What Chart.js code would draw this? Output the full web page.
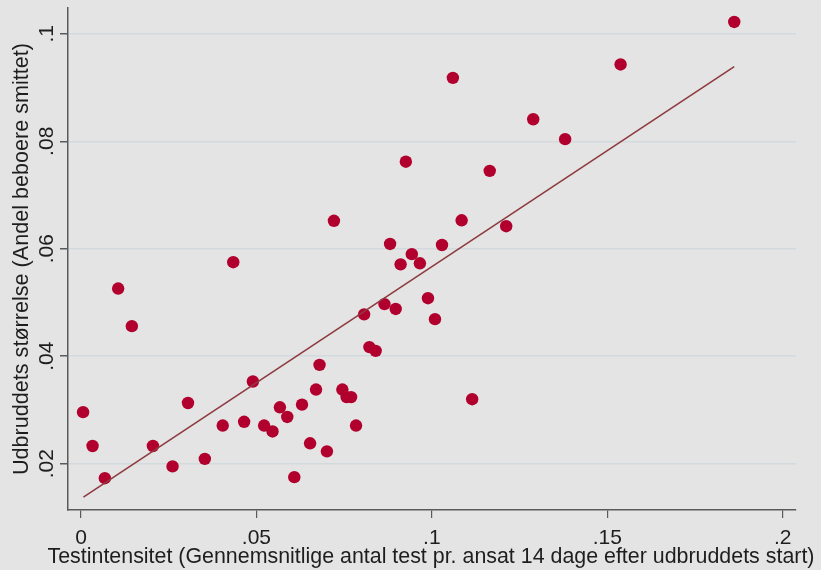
<!DOCTYPE html>
<html>
<head>
<meta charset="utf-8">
<script src="https://cdn.jsdelivr.net/npm/chart.js@4"></script>
<style>
  html, body { margin: 0; padding: 0; background: #e4e4e4; }
  #wrap { width: 821px; height: 570px; }
</style>
</head>
<body>
<div id="wrap"><canvas id="chart" width="821" height="570"></canvas></div>
<script>
// Testintensitet (x) and udbruddets stoerrelse (y)
const testIntensity = [
  0.0006, 0.0033, 0.0068, 0.0106, 0.0145, 0.0205, 0.0261, 0.0305, 0.0353, 0.0404,
  0.0434, 0.0465, 0.0490, 0.0522, 0.0546, 0.0567, 0.0588, 0.0608, 0.0630, 0.0653,
  0.0670, 0.0680, 0.0701, 0.0721, 0.0745, 0.0757, 0.0770, 0.0784, 0.0807, 0.0822,
  0.0840, 0.0865, 0.0881, 0.0897, 0.0911, 0.0926, 0.0943, 0.0966, 0.0989, 0.1009,
  0.1029, 0.1060, 0.1085, 0.1115, 0.1165, 0.1212, 0.1289, 0.1380, 0.1538, 0.1862
];
const outbreakSize = [
  0.0296, 0.0233, 0.0173, 0.0526, 0.0456, 0.0233, 0.0195, 0.0313, 0.0209, 0.0271,
  0.0575, 0.0278, 0.0353, 0.0271, 0.0260, 0.0305, 0.0287, 0.0175, 0.0310, 0.0238,
  0.0338, 0.0384, 0.0223, 0.0652, 0.0338, 0.0324, 0.0324, 0.0271, 0.0478, 0.0417,
  0.0410, 0.0497, 0.0609, 0.0488, 0.0571, 0.0762, 0.0590, 0.0573, 0.0508, 0.0469,
  0.0607, 0.0918, 0.0653, 0.0320, 0.0745, 0.0642, 0.0841, 0.0804, 0.0943, 0.1022
];
// fitted line endpoints
const fitX = [0.0007, 0.1862];
const fitY = [0.0138, 0.0939];

const xTicks = [0, 0.05, 0.1, 0.15, 0.2];
const yTicks = [0.02, 0.04, 0.06, 0.08, 0.1];

const xTitle = 'Testintensitet (Gennemsnitlige antal test pr. ansat 14 dage efter udbruddets start)';
const yTitle = 'Udbruddets størrelse (Andel beboere smittet)';

const FONT = '"Liberation Sans", Arial, sans-serif';
const TEXT = '#1e1e1e';
const AXIS = '#5a5a5a';

function fmt(v) {
  if (v === 0) return '0';
  return String(+v.toFixed(3)).replace(/^0\./, '.');
}

// rotated y tick labels, and an x title allowed to run wider than the plot
const extraText = {
  id: 'extraText',
  afterDraw(chart) {
    const y = chart.scales.y;
    const area = chart.chartArea;
    const ctx = chart.ctx;
    ctx.save();
    ctx.fillStyle = TEXT;
    ctx.font = '21px ' + FONT;
    ctx.textAlign = 'center';
    ctx.textBaseline = 'alphabetic';
    yTicks.forEach((v) => {
      ctx.save();
      ctx.translate(52.5, y.getPixelForValue(v));
      ctx.rotate(-Math.PI / 2);
      ctx.fillText(fmt(v), 0, 0);
      ctx.restore();
    });
    ctx.font = '21.4px ' + FONT;
    ctx.fillText(xTitle, (area.left + area.right) / 2 - 1, 562.5);
    ctx.restore();
  }
};

const bgPlugin = {
  id: 'bg',
  beforeDraw(chart) {
    const ctx = chart.ctx;
    ctx.save();
    ctx.fillStyle = '#e4e4e4';
    ctx.fillRect(0, 0, chart.width, chart.height);
    ctx.restore();
  }
};

new Chart(document.getElementById('chart'), {
  type: 'scatter',
  data: {
    datasets: [
      {
        type: 'line',
        data: fitX.map((x, i) => ({ x, y: fitY[i] })),
        borderColor: '#8e3b3f',
        borderWidth: 1.6,
        pointRadius: 0,
        fill: false,
        order: 0
      },
      {
        data: testIntensity.map((x, i) => ({ x, y: outbreakSize[i] })),
        backgroundColor: '#b1002d',
        borderWidth: 0,
        pointRadius: 6.2,
        order: 1
      }
    ]
  },
  options: {
    responsive: false,
    animation: false,
    layout: { padding: { top: 8, right: 25, left: 0, bottom: 0 } },
    plugins: { legend: { display: false }, tooltip: { enabled: false } },
    scales: {
      x: {
        type: 'linear',
        min: -0.0037,
        max: 0.2038,
        afterBuildTicks: (s) => { s.ticks = xTicks.map((v) => ({ value: v })); },
        afterFit: (s) => { s.height = 60; },
        border: { display: true, color: AXIS, width: 1.5 },
        grid: { drawOnChartArea: false, drawTicks: true, tickLength: 8, tickColor: AXIS, lineWidth: 1.2 },
        ticks: {
          callback: (v) => fmt(v),
          color: TEXT,
          font: { family: FONT, size: 21 },
          padding: 8,
          maxRotation: 0
        },
        title: { display: false }
      },
      y: {
        type: 'linear',
        min: 0.01139,
        max: 0.1048,
        afterBuildTicks: (s) => { s.ticks = yTicks.map((v) => ({ value: v })); },
        afterFit: (s) => { s.width = 68; },
        border: { display: true, color: AXIS, width: 1.5 },
        grid: { color: '#d3dadd', lineWidth: 1.5, tickLength: 8, tickColor: AXIS, drawTicks: true },
        ticks: {
          callback: (v) => fmt(v),
          color: 'rgba(0,0,0,0)',
          font: { family: FONT, size: 1 }
        },
        title: {
          display: true,
          text: yTitle,
          color: TEXT,
          font: { family: FONT, size: 21.6 },
          padding: { top: 8.6, bottom: 0 }
        }
      }
    }
  },
  plugins: [bgPlugin, extraText]
});
</script>
</body>
</html>
